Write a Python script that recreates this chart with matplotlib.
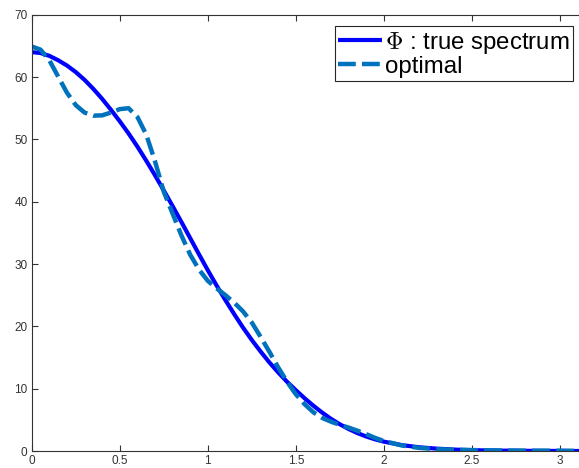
import numpy as np
import matplotlib
matplotlib.use('Agg')
import matplotlib.pyplot as plt

plt.rcParams['font.family'] = ['Liberation Sans', 'DejaVu Sans']
plt.rcParams['mathtext.fontset'] = 'cm'

# values
omega = [0.0, 0.05, 0.1, 0.15, 0.2, 0.25, 0.3, 0.35, 0.4, 0.45, 0.5, 0.55,
         0.6, 0.65, 0.7, 0.75, 0.8, 0.85, 0.9, 0.95, 1.0, 1.05, 1.1, 1.15,
         1.2, 1.25, 1.3, 1.35, 1.4, 1.45, 1.5, 1.55, 1.6, 1.65, 1.7, 1.75,
         1.8, 1.85, 1.9, 1.95, 2.0, 2.1, 2.2, 2.3, 2.4, 2.5, 2.6, 2.8, 3.0,
         np.pi]

true_spectrum = [64.0, 63.85, 63.4, 62.7, 61.85, 60.8, 59.55, 58.1, 56.5, 54.75,
                 52.9, 50.95, 48.85, 46.6, 44.25, 41.8, 39.3, 36.75, 34.15, 31.55,
                 29.0, 26.55, 24.2, 21.95, 19.8, 17.8, 15.95, 14.2, 12.6, 11.1,
                 9.75, 8.45, 7.25, 6.15, 5.15, 4.28, 3.52, 2.87, 2.32, 1.87, 1.5,
                 0.95, 0.6, 0.38, 0.23, 0.14, 0.08, 0.03, 0.01, 0.0]

optimal = [64.9, 64.4, 62.7, 60.1, 57.5, 55.5, 54.3, 53.8, 53.85, 54.3,
           54.85, 55.0, 53.6, 50.8, 46.5, 41.6, 38.1, 34.6, 31.5, 29.1,
           27.3, 26.1, 25.0, 23.8, 22.4, 20.6, 18.3, 15.9, 13.4, 11.1,
           9.1, 7.5, 6.2, 5.3, 4.7, 4.2, 3.75, 3.25, 2.7, 2.1, 1.6,
           0.9, 0.5, 0.3, 0.2, 0.15, 0.1, 0.06, 0.05, 0.0]

fig = plt.figure(figsize=(5.79, 4.68), dpi=100)
ax = fig.add_axes([0.0547, 0.0363, 0.9557, 0.9323])

ax.plot(omega, true_spectrum, color='#0000ff', lw=3, solid_capstyle='butt',
        label=r'$\Phi$ : true spectrum')
ax.plot(omega, optimal, color='#0072bd', lw=3.2, dashes=(4, 1.4),
        label='optimal')

ax.set_xlim(0, np.pi)
ax.set_ylim(0, 70)
ax.set_xticks([0, 0.5, 1, 1.5, 2, 2.5, 3])
ax.set_xticklabels(['0', '0.5', '1', '1.5', '2', '2.5', '3'])
ax.set_yticks(range(0, 71, 10))

ax.tick_params(direction='in', top=True, right=True, length=4, width=0.8,
               labelsize=8.5, colors='#333333', pad=3)
for sp in ax.spines.values():
    sp.set_color('#333333')
    sp.set_linewidth(0.8)

leg = ax.legend(loc='upper right', bbox_to_anchor=(573.3 / 579, (468 - 26) / 468),
                bbox_transform=fig.transFigure, borderaxespad=0, fancybox=False,
                framealpha=1, edgecolor='#262626', fontsize=17.3, handlelength=1.8,
                handletextpad=0.15, borderpad=0.15, labelspacing=0.0)
leg.get_frame().set_linewidth(0.8)

plt.savefig('out.png', dpi=100)
plt.close()
